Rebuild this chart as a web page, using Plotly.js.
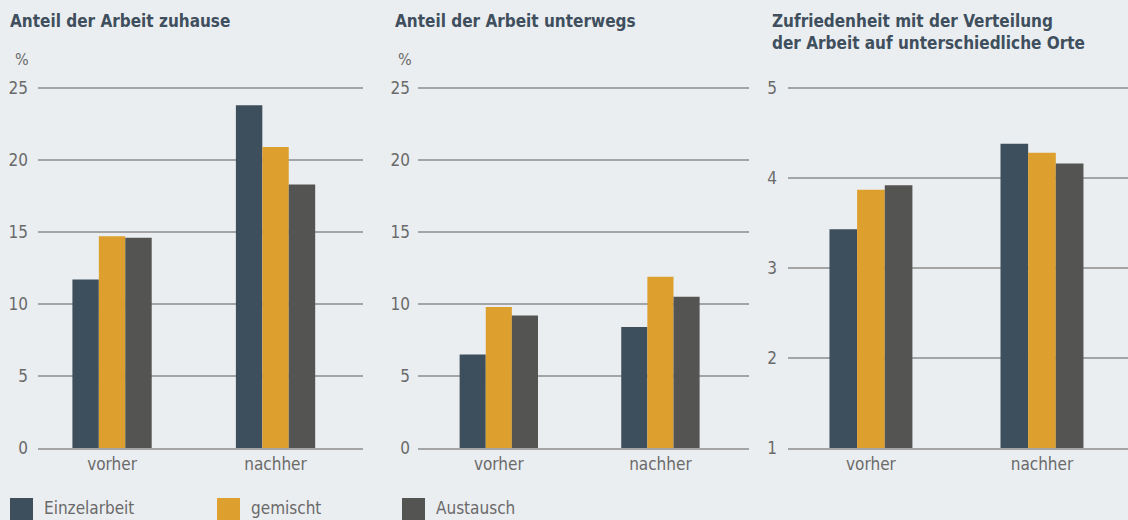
<!DOCTYPE html>
<html>
<head>
<meta charset="utf-8">
<script src="https://cdn.plot.ly/plotly-3.0.1.min.js"></script>
<style>
html,body{margin:0;padding:0;background:#eaeef1;}
#chart{width:1128px;height:520px;}
</style>
</head>
<body>
<div id="chart"></div>
<script>
// ---- data ----
const categories = ['vorher', 'nachher'];
const seriesNames = ['Einzelarbeit', 'gemischt', 'Austausch'];
const panelTitles = [
  'Anteil der Arbeit zuhause',
  'Anteil der Arbeit unterwegs',
  'Zufriedenheit mit der Verteilung<br>der Arbeit auf unterschiedliche Orte'
];
// Anteil der Arbeit zuhause (%)
const zuhauseEinzelarbeit = [11.7, 23.8];
const zuhauseGemischt     = [14.7, 20.9];
const zuhauseAustausch    = [14.6, 18.3];
// Anteil der Arbeit unterwegs (%)
const unterwegsEinzelarbeit = [6.5, 8.4];
const unterwegsGemischt     = [9.8, 11.9];
const unterwegsAustausch    = [9.2, 10.5];
// Zufriedenheit (Skala 1-5)
const zufriedenEinzelarbeit = [3.43, 4.38];
const zufriedenGemischt     = [3.87, 4.28];
const zufriedenAustausch    = [3.92, 4.16];

// ---- styles ----
const colors = ['#3d4f5d', '#dd9f2e', '#545452'];
const FONT = '"DejaVu Sans Condensed", "Liberation Sans Narrow", sans-serif';
const tickColor = '#6a6a6a';
const titleColor = '#3f4f5d';
const gridColor = '#a4a4a4';

const panels = [
  [zuhauseEinzelarbeit, zuhauseGemischt, zuhauseAustausch],
  [unterwegsEinzelarbeit, unterwegsGemischt, unterwegsAustausch],
  [zufriedenEinzelarbeit, zufriedenGemischt, zufriedenAustausch]
];

const traces = [];
panels.forEach((series, p) => {
  series.forEach((vals, s) => {
    traces.push({
      type: 'bar',
      x: categories,
      y: vals,
      name: seriesNames[s],
      marker: {color: colors[s], line: {width: 0}},
      xaxis: p === 0 ? 'x' : 'x' + (p + 1),
      yaxis: p === 0 ? 'y' : 'y' + (p + 1),
      showlegend: false,
      hoverinfo: 'y'
    });
  });
});

const W = 1128, H = 520;
const yDom = [1 - 448 / H, 1 - 85.12 / H];
function xAxis(l, r, range) {
  return {
    domain: [l / W, r / W], range: range, type: 'category',
    showline: true, linecolor: gridColor, linewidth: 2,
    showgrid: false, ticks: '', fixedrange: true,
    tickfont: {family: FONT, size: 17, color: tickColor}
  };
}
function yAxis(anchor, range, dtick, standoff) {
  return {
    domain: yDom, anchor: anchor, range: range, dtick: dtick,
    tick0: 0, showgrid: true, gridcolor: gridColor, gridwidth: 2,
    zeroline: false, showline: false, ticks: '', fixedrange: true,
    ticklabelstandoff: standoff,
    tickfont: {family: FONT, size: 17, color: tickColor}
  };
}

const annotations = [];
const titleX = [8, 393, 770];
panelTitles.forEach((t, i) => {
  annotations.push({
    xref: 'paper', yref: 'paper', x: titleX[i] / W, y: 1 - 9 / H,
    xanchor: 'left', yanchor: 'top', align: 'left', showarrow: false,
    text: '<b>' + t + '</b>',
    font: {family: FONT, size: 17, color: titleColor}
  });
});
[22, 405].forEach(px => {
  annotations.push({
    xref: 'paper', yref: 'paper', x: px / W, y: 1 - 59 / H,
    xanchor: 'center', yanchor: 'middle', showarrow: false, text: '%',
    font: {family: FONT, size: 16, color: tickColor}
  });
});

// legend (drawn manually to match the large square keys)
const legendX = [10, 217, 402];
const shapes = [];
seriesNames.forEach((n, i) => {
  shapes.push({
    type: 'rect', xref: 'paper', yref: 'paper',
    x0: legendX[i] / W, x1: (legendX[i] + 23) / W,
    y0: 1 - 522 / H, y1: 1 - 498 / H,
    fillcolor: colors[i], line: {width: 0}
  });
  annotations.push({
    xref: 'paper', yref: 'paper', x: (legendX[i] + 32) / W, y: 1 - 508 / H,
    xanchor: 'left', yanchor: 'middle', showarrow: false, text: n,
    font: {family: FONT, size: 17, color: tickColor}
  });
});

const layout = {
  width: W, height: H,
  margin: {l: 0, r: 0, t: 0, b: 0},
  paper_bgcolor: '#eaeef1', plot_bgcolor: '#eaeef1',
  barmode: 'group', bargap: 0.515, bargroupgap: 0,
  showlegend: false,
  xaxis: xAxis(38, 363, [-0.453, 1.535]),
  xaxis2: Object.assign(xAxis(418, 749, [-0.50, 1.548]), {anchor: 'y2'}),
  xaxis3: Object.assign(xAxis(788, 1128, [-0.485, 1.503]), {anchor: 'y3'}),
  yaxis: yAxis('x', [0, 25.2], 5, 9),
  yaxis2: yAxis('x2', [0, 25.2], 5, 7),
  yaxis3: Object.assign(yAxis('x3', [1, 5.032], 1, 10), {tick0: 1}),
  annotations: annotations,
  shapes: shapes
};
layout.xaxis.anchor = 'y';

Plotly.newPlot('chart', traces, layout, {displayModeBar: false, staticPlot: true});
</script>
</body>
</html>
